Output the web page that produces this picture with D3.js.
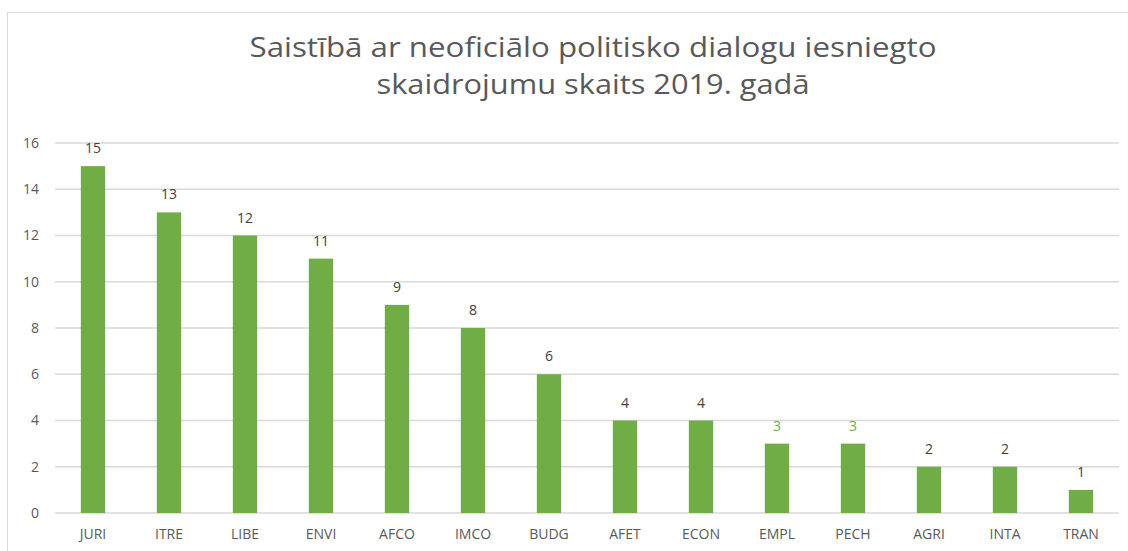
<!DOCTYPE html>
<html><head><meta charset="utf-8">
<script src="https://cdn.jsdelivr.net/npm/d3@7"></script>
<style>body{margin:0;background:#fff}svg{display:block}</style>
</head><body>
<svg id="c" width="1128" height="551"></svg>
<script>
const categories = ["JURI","ITRE","LIBE","ENVI","AFCO","IMCO","BUDG","AFET","ECON","EMPL","PECH","AGRI","INTA","TRAN"];
const values = [15,13,12,11,9,8,6,4,4,3,3,2,2,1];
const yTicks = [0,2,4,6,8,10,12,14,16];
const titleLines = ["Saistībā ar neoficiālo politisko dialogu iesniegto","skaidrojumu skaits 2019. gadā"];
const labelColors = ["#404040","#404040","#404040","#404040","#404040","#404040","#404040","#404040","#404040","#70ad47","#70ad47","#404040","#404040","#404040"];

const svg = d3.select("#c");
svg.append("rect").attr("x",7.5).attr("y",12.5).attr("width",1130).attr("height",560)
  .attr("fill","#fff").attr("stroke","#d9d9d9").attr("stroke-width",1);

const x = d3.scaleBand().domain(categories).range([55,1119]).paddingInner(0.68).paddingOuter(0.34);
const y = d3.scaleLinear().domain([0,16]).range([513,143]);

const grid = svg.append("g");
grid.selectAll("line").data(yTicks).join("line")
  .attr("x1",55).attr("x2",1119).attr("y1",d=>y(d)).attr("y2",d=>y(d))
  .attr("stroke","#d9d9d9").attr("stroke-width",1.5);

const yAxis = svg.append("g").attr("transform","translate(39,0)")
  .call(d3.axisLeft(y).tickValues(yTicks).tickSize(0).tickPadding(0));
yAxis.select(".domain").remove();
yAxis.selectAll("text").attr("font-family","Open Sans, sans-serif").attr("font-size",14).attr("fill","#595959");

const xAxis = svg.append("g").attr("transform","translate(0,513)")
  .call(d3.axisBottom(x).tickSize(0).tickPadding(16));
xAxis.select(".domain").remove();
xAxis.selectAll("text").attr("font-family","Open Sans, sans-serif").attr("font-size",14).attr("fill","#595959");

svg.append("g").selectAll("rect").data(values).join("rect")
  .attr("x",(d,i)=>x(categories[i])).attr("width",x.bandwidth())
  .attr("y",d=>y(d)).attr("height",d=>y(0)-y(d)).attr("fill","#70ad47");

svg.append("g").selectAll("text").data(values).join("text")
  .attr("x",(d,i)=>x(categories[i])+x.bandwidth()/2).attr("y",d=>y(d)-13)
  .attr("text-anchor","middle").attr("font-family","Open Sans, sans-serif").attr("font-size",14)
  .attr("fill",(d,i)=>labelColors[i]).text(d=>d);

svg.append("g").selectAll("text").data(titleLines).join("text")
  .attr("x",593).attr("y",(d,i)=>57+i*37).attr("text-anchor","middle")
  .attr("font-family","Open Sans, sans-serif").attr("font-size",28).attr("fill","#595959")
  .attr("textLength",(d,i)=>i===0?687:433).attr("lengthAdjust","spacingAndGlyphs")
  .text(d=>d);
</script>
</body></html>
